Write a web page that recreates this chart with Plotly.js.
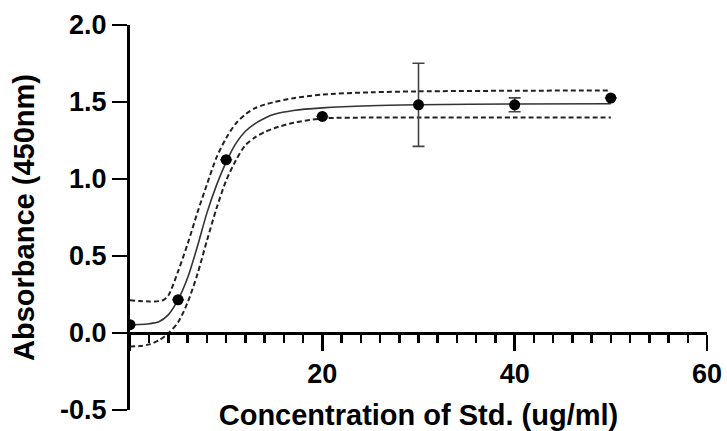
<!DOCTYPE html>
<html>
<head>
<meta charset="utf-8">
<script src="https://cdn.plot.ly/plotly-3.0.1.min.js"></script>
<style>html,body{margin:0;padding:0;background:#fff;}#chart{width:727px;height:431px;}</style>
</head>
<body>
<div id="chart"></div>
<script>
// Measured standards (concentration ug/ml, mean absorbance, error)
const concX = [0, 5, 10, 20, 30, 40, 50];
const absY = [0.054, 0.216, 1.125, 1.406, 1.482, 1.482, 1.526];
const absErr = [0, 0, 0, 0, 0.27, 0.045, 0];

// Fitted curve
const fitX = [0, 1, 2, 3, 4, 5, 6, 7, 8, 9, 10, 11, 12, 13, 14, 15, 17, 20, 25, 30, 40, 50];
const fitY = [0.054, 0.055, 0.060, 0.073, 0.119, 0.216, 0.36, 0.56, 0.78, 0.96, 1.11, 1.23, 1.31, 1.36, 1.395, 1.42, 1.445, 1.462, 1.476, 1.482, 1.487, 1.489];

// Upper confidence band
const upperX = [0, 1, 2, 3, 3.5, 4, 5, 6, 7, 8, 9, 10, 11, 12, 13, 14, 15, 17, 20, 25, 30, 40, 50];
const upperY = [0.212, 0.208, 0.205, 0.207, 0.215, 0.245, 0.40, 0.58, 0.78, 0.965, 1.14, 1.265, 1.36, 1.42, 1.46, 1.483, 1.50, 1.525, 1.548, 1.563, 1.569, 1.573, 1.575];

// Lower confidence band
const lowerX = [0, 1, 2, 3, 4, 5, 6, 7, 8, 9, 10, 11, 12, 13, 14, 15, 17, 20, 25, 30, 40, 50];
const lowerY = [-0.087, -0.085, -0.074, -0.048, 0.0, 0.07, 0.20, 0.38, 0.60, 0.81, 0.99, 1.12, 1.22, 1.27, 1.305, 1.33, 1.365, 1.393, 1.399, 1.40, 1.40, 1.40];

// Tick labels
const xTickVals = [0, 20, 40, 60];
const xTickText = ['', '20', '40', '60'];
const yTickVals = [-0.5, 0, 0.5, 1.0, 1.5, 2.0];
const yTickText = ['-0.5', '0.0', '0.5', '1.0', '1.5', '2.0'];

const FONT = 'Liberation Sans, Arial, Helvetica, sans-serif';

const traces = [
  {x: upperX, y: upperY, mode: 'lines', line: {color: '#222', width: 2, dash: '5px,3px', shape: 'spline', smoothing: 0.8}, hoverinfo: 'skip', showlegend: false},
  {x: lowerX, y: lowerY, mode: 'lines', line: {color: '#222', width: 2, dash: '5px,3px', shape: 'spline', smoothing: 0.8}, hoverinfo: 'skip', showlegend: false},
  {x: fitX, y: fitY, mode: 'lines', line: {color: '#333', width: 1.6, shape: 'spline', smoothing: 0.8}, hoverinfo: 'skip', showlegend: false},
  {x: concX, y: absY, mode: 'markers', marker: {color: '#000', size: 11},
   error_y: {type: 'data', array: absErr, visible: true, color: '#444', thickness: 1.6, width: 6},
   showlegend: false}
];

const layout = {
  width: 727, height: 431,
  margin: {l: 130, r: 20, t: 25, b: 21, pad: 0},
  paper_bgcolor: '#fff', plot_bgcolor: '#fff',
  showlegend: false,
  font: {family: FONT, color: '#000'},
  xaxis: {
    range: [0, 60], anchor: 'free', position: 0.2,
    showgrid: false, zeroline: false,
    showline: true, linecolor: '#000', linewidth: 3,
    tickmode: 'array', tickvals: xTickVals, ticktext: xTickText,
    ticks: 'outside', ticklen: 16, tickwidth: 2.5, tickcolor: '#000',
    ticklabelstandoff: 0,
    tickfont: {family: FONT, size: 27, weight: 'bold', color: '#000'},
    minor: {tickmode: 'linear', tick0: 0, dtick: 2, ticks: 'outside', ticklen: 8, tickwidth: 2.5, tickcolor: '#000', showgrid: false},
    title: {text: 'Concentration of Std. (ug/ml)', font: {family: FONT, size: 29, weight: 'bold', color: '#000'}, standoff: 22},
    automargin: false
  },
  yaxis: {
    range: [-0.5, 2.0],
    showgrid: false, zeroline: false,
    showline: true, linecolor: '#000', linewidth: 3,
    tickmode: 'array', tickvals: yTickVals, ticktext: yTickText,
    ticks: 'outside', ticklen: 15, tickwidth: 2.5, tickcolor: '#000',
    ticklabelstandoff: 0,
    tickfont: {family: FONT, size: 27, weight: 'bold', color: '#000'},
    title: {text: 'Absorbance (450nm)', font: {family: FONT, size: 29, weight: 'bold', color: '#000'}, standoff: 17},
    automargin: false
  }
};

Plotly.newPlot('chart', traces, layout, {displayModeBar: false, staticPlot: true});
</script>
</body>
</html>
